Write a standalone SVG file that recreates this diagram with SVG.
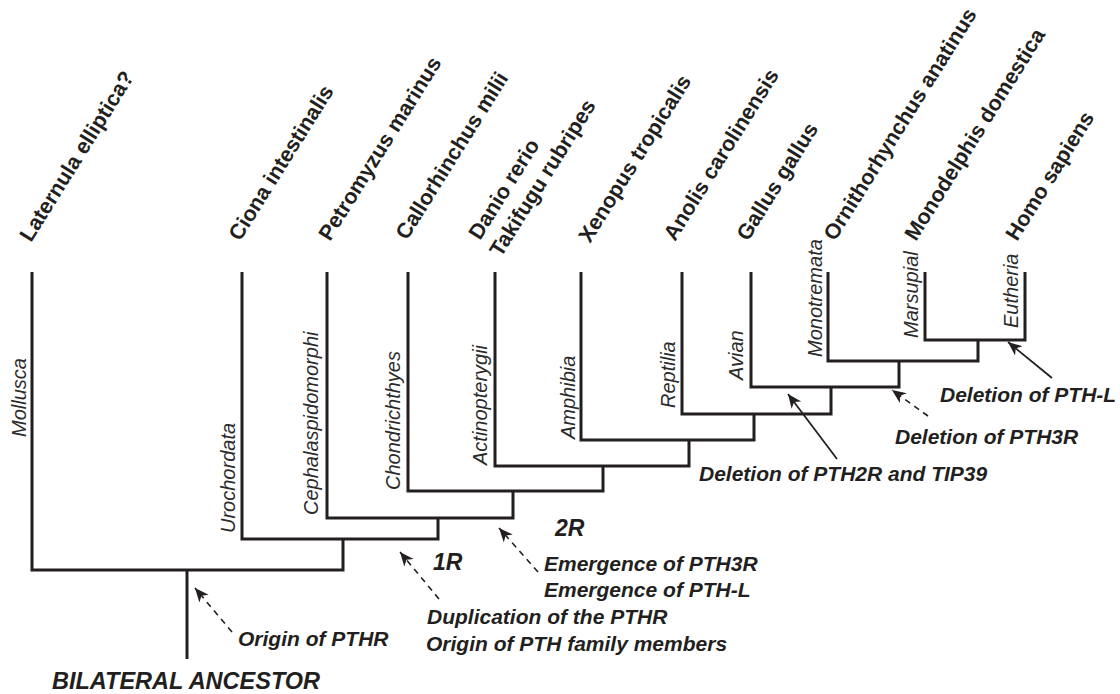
<svg xmlns="http://www.w3.org/2000/svg" width="1120" height="694" viewBox="0 0 1120 694">
  <style>
    .branch { fill: none; stroke: #231f20; stroke-width: 3; stroke-linecap: butt; stroke-linejoin: miter; }
    .species { font-family: "Liberation Sans", Arial, sans-serif; font-weight: bold; font-size: 21.5px; fill: #231f20; }
    .clade { font-family: "Liberation Sans", Arial, sans-serif; font-style: italic; font-size: 20px; fill: #2b2b2b; }
    .note { font-family: "Liberation Sans", Arial, sans-serif; font-style: italic; font-weight: bold; font-size: 21px; fill: #231f20; }
    .big { font-size: 23px; }
    .ancestor { font-size: 23.5px; }
    .arrow { fill: none; stroke: #231f20; stroke-width: 1.8; }
    .dashed { stroke-dasharray: 6 5; stroke-width: 1.6; }
  </style>
  <defs>
    <marker id="head" markerUnits="userSpaceOnUse" markerWidth="16" markerHeight="13" refX="14" refY="6" orient="auto">
      <path d="M0,0 L14,6 L0,12 L4,6 Z" fill="#231f20"/>
    </marker>
  </defs>
  <rect width="1120" height="694" fill="#ffffff"/>

  <!-- tree branches -->
  <g id="connectors">
    <path class="branch" d="M187,659 V570"/>
    <path class="branch" d="M32,272 V570 H343 V539"/>
    <path class="branch" d="M242,272 V539 H438 V518"/>
    <path class="branch" d="M327,272 V518 H513 V491"/>
    <path class="branch" d="M408,272 V491 H603 V466"/>
    <path class="branch" d="M495,272 V466 H689 V440"/>
    <path class="branch" d="M581,272 V440 H754 V414"/>
    <path class="branch" d="M682,272 V414 H831 V387"/>
    <path class="branch" d="M751,272 V387 H899 V361"/>
    <path class="branch" d="M828,272 V361 H978 V340"/>
    <path class="branch" d="M925,272 V340 H1025 V272"/>

    <!-- event arrows -->
    <path class="arrow dashed" d="M232,632 L195,588" marker-end="url(#head)"/>
    <path class="arrow dashed" d="M439,599 L400,552" marker-end="url(#head)"/>
    <path class="arrow dashed" d="M538,572 L499,528" marker-end="url(#head)"/>
    <path class="arrow" d="M837,459 L788,394" marker-end="url(#head)"/>
    <path class="arrow dashed" d="M928,416 L892,390" marker-end="url(#head)"/>
    <path class="arrow" d="M1052,378 L1008,342" marker-end="url(#head)"/>
  </g>

  <!-- taxa -->
  <g id="laternula">
    <text class="species" transform="translate(31,243) rotate(-58)">Laternula elliptica?</text>
    <text class="clade" transform="translate(26,437) rotate(-90)">Mollusca</text>
  </g>
  <g id="ciona">
    <text class="species" transform="translate(240,242) rotate(-58)">Ciona intestinalis</text>
    <text class="clade" transform="translate(235,533) rotate(-90)">Urochordata</text>
  </g>
  <g id="petromyzon">
    <text class="species" transform="translate(330,242) rotate(-58)">Petromyzus marinus</text>
    <text class="clade" transform="translate(318,515) rotate(-90)">Cephalaspidomorphi</text>
  </g>
  <g id="callorhinchus">
    <text class="species" transform="translate(407,241) rotate(-58)">Callorhinchus milii</text>
    <text class="clade" transform="translate(400,490) rotate(-90)">Chondrichthyes</text>
  </g>
  <g id="teleosts">
    <text class="species" transform="translate(480,241) rotate(-58)">Danio rerio</text>
    <text class="species" transform="translate(501,258) rotate(-58)">Takifugu rubripes</text>
    <text class="clade" transform="translate(487,465) rotate(-90)">Actinopterygii</text>
  </g>
  <g id="xenopus">
    <text class="species" transform="translate(590,244) rotate(-58)">Xenopus tropicalis</text>
    <text class="clade" transform="translate(575,439) rotate(-90)">Amphibia</text>
  </g>
  <g id="anolis">
    <text class="species" transform="translate(675,242) rotate(-58)">Anolis carolinensis</text>
    <text class="clade" transform="translate(675,408) rotate(-90)">Reptilia</text>
  </g>
  <g id="gallus">
    <text class="species" transform="translate(748,242) rotate(-58)">Gallus gallus</text>
    <text class="clade" transform="translate(743,380) rotate(-90)">Avian</text>
  </g>
  <g id="ornithorhynchus">
    <text class="species" transform="translate(835,242) rotate(-58)">Ornithorhynchus anatinus</text>
    <text class="clade" transform="translate(822,357) rotate(-90)">Monotremata</text>
  </g>
  <g id="monodelphis">
    <text class="species" transform="translate(916,242) rotate(-58)">Monodelphis domestica</text>
    <text class="clade" transform="translate(918,338) rotate(-90)">Marsupial</text>
  </g>
  <g id="homo">
    <text class="species" transform="translate(1017,242) rotate(-58)">Homo sapiens</text>
    <text class="clade" transform="translate(1018,328) rotate(-90)">Eutheria</text>
  </g>

  <!-- events along the tree -->
  <g id="root">
    <text class="note ancestor" x="52" y="689">BILATERAL ANCESTOR</text>
    <text class="note" x="238" y="646">Origin of PTHR</text>
  </g>
  <g id="event-1r">
    <text class="note big" x="433" y="570">1R</text>
    <text class="note" x="427" y="624">Duplication of the PTHR</text>
    <text class="note" x="426" y="651">Origin of PTH family members</text>
  </g>
  <g id="event-2r">
    <text class="note big" x="555" y="536">2R</text>
    <text class="note" x="544" y="571">Emergence of PTH3R</text>
    <text class="note" x="544" y="597">Emergence of PTH-L</text>
  </g>
  <g id="event-avian">
    <text class="note" x="699" y="481">Deletion of PTH2R and TIP39</text>
  </g>
  <g id="event-mammal">
    <text class="note" x="895" y="444">Deletion of PTH3R</text>
  </g>
  <g id="event-eutheria">
    <text class="note" x="940" y="402">Deletion of PTH-L</text>
  </g>
</svg>
